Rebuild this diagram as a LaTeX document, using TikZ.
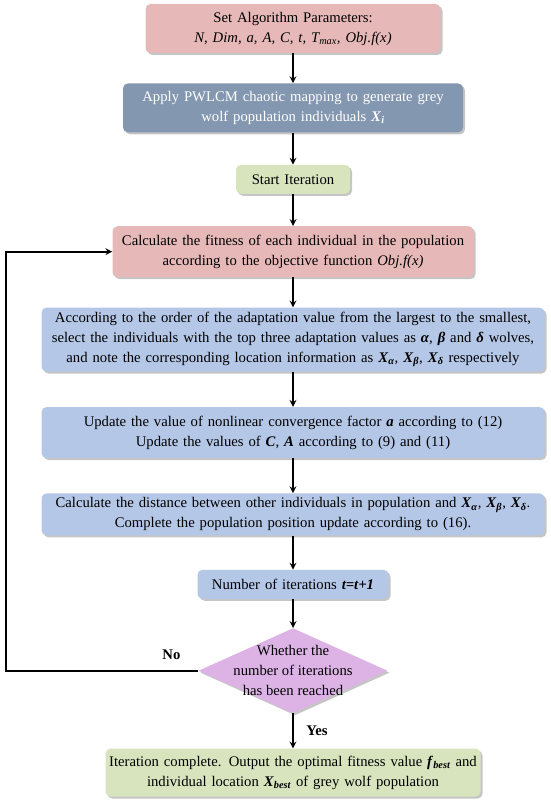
\documentclass[tikz,border=0pt]{standalone}
\usepackage{fontspec}
\setmainfont{Liberation Serif}
\usetikzlibrary{positioning,shapes.geometric,shadows}

\definecolor{boxpink}{HTML}{E6B9B8}
\definecolor{boxslate}{HTML}{8497B0}
\definecolor{boxgreen}{HTML}{D7E4BD}
\definecolor{boxblue}{HTML}{B4C7E7}
\definecolor{boxviolet}{HTML}{DDB3E6}

\newcommand{\bi}[1]{\textbf{\textit{#1}}}
\newcommand{\xsub}[2]{\bi{#1}\textsubscript{\bi{#2}}}

\tikzset{
  box/.style={rectangle, rounded corners=5pt, align=center, inner sep=3pt,
    font=\fontsize{14.7}{20}\selectfont,
    drop shadow={shadow xshift=2pt, shadow yshift=-2pt, fill=black!45, opacity=0.5}},
  decision/.style={diamond, fill=boxviolet, inner sep=0pt,
    minimum width=189pt, minimum height=85pt,
    drop shadow={shadow xshift=2pt, shadow yshift=-2pt, fill=black!45, opacity=0.5}},
  flow/.style={->, >=stealth, line width=2pt}
}

\begin{document}
\begin{tikzpicture}[node distance=32pt]
  \useasboundingbox (0,0) rectangle (550pt,-800pt);

  \node[box,fill=boxpink,text width=289pt,minimum height=49pt] (param) at (293pt,-28.5pt)
    {Set Algorithm Parameters:\\ \textit{N, Dim, a, A, C, t, T\textsubscript{max}, Obj.f(x)}};
  \node[box,fill=boxslate,text=white,text width=334pt,minimum height=49pt] (init) [below=30pt of param]
    {Apply PWLCM chaotic mapping to generate grey\\ wolf population individuals \xsub{X}{i}};
  \node[box,fill=boxgreen,text width=108pt,minimum height=29pt] (start) [below=32pt of init]
    {Start Iteration};
  \node[box,fill=boxpink,text width=355pt,minimum height=51pt] (fit) [below=32pt of start]
    {Calculate the fitness of each individual in the population\\ according to the objective function \textit{Obj.f(x)}};
  \node[box,fill=boxblue,text width=497pt,minimum height=64pt] (rank) [below=30pt of fit]
    {According to the order of the adaptation value from the largest to the smallest,\\
     select the individuals with the top three adaptation values as \bi{α}, \bi{β} and \bi{δ} wolves,\\
     and note the corresponding location information as \xsub{X}{α}, \xsub{X}{β}, \xsub{X}{δ} respectively};
  \node[box,fill=boxblue,text width=497pt,minimum height=51pt] (upd) [below=35pt of rank]
    {Update the value of nonlinear convergence factor \bi{a} according to (12)\\
     Update the values of \bi{C}, \bi{A} according to (9) and (11)};
  \node[box,fill=boxblue,text width=497pt,minimum height=42pt] (move) [below=35pt of upd]
    {Calculate the distance between other individuals in population and \xsub{X}{α}, \xsub{X}{β}, \xsub{X}{δ}.\\
     Complete the population position update according to (16).};
  \node[box,fill=boxblue,text width=185pt,minimum height=29pt] (iter) [below=34pt of move]
    {Number of iterations \bi{t=t+1}};
  \node[decision] (chk) [below=29pt of iter] {};
  \node[align=center,font=\fontsize{14.7}{20}\selectfont] (chktext) at (chk)
    {Whether the\\ number of iterations\\ has been reached};
  \node[box,fill=boxgreen,text width=369pt,minimum height=48pt] (out) [below=35pt of chk]
    {Iteration complete. Output the optimal fitness value \xsub{f}{best} and\\
     individual location \xsub{X}{best} of grey wolf population};

  \coordinate (back) at (6pt,0);

  \path[flow] (param) edge (init)
        (init) edge (start)
        (start) edge (fit)
        (fit) edge (rank)
        (rank) edge (upd)
        (upd) edge (move)
        (move) edge (iter)
        (iter) edge (chk)
        (chk) edge node[right=9pt,font=\fontsize{14.7}{16}\selectfont\bfseries] {Yes} (out);
  \draw[flow] (chk.west) -- node[pos=0.14,above=7pt,font=\fontsize{14.7}{16}\selectfont\bfseries] {No} (chk.west -| back)
        |- (fit.west);
\end{tikzpicture}
\end{document}
